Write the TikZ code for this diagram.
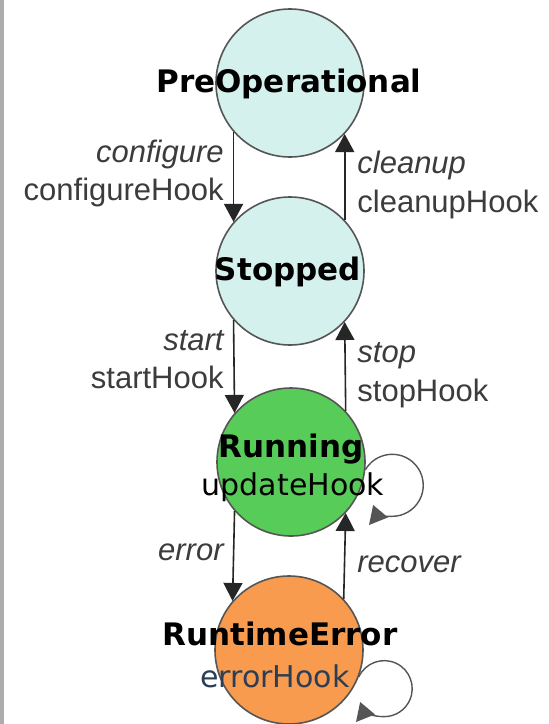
\documentclass[tikz,border=0pt]{standalone}
\usepackage{fontspec}
\setmainfont{Liberation Sans}
\newfontfamily\statefont{DejaVu Sans}
\usetikzlibrary{arrows.meta}

\definecolor{paleteal}{HTML}{D4F1ED}
\definecolor{rungreen}{HTML}{58CC58}
\definecolor{errorange}{HTML}{F89B4E}
\definecolor{edgegray}{HTML}{555555}
\definecolor{lblgray}{HTML}{3C3C3C}
\definecolor{hookblue}{HTML}{2C3E55}

\tikzset{
  statecircle/.style={circle, draw=edgegray, line width=0.8pt, minimum size=74pt, inner sep=0pt},
  sname/.style={font=\statefont\bfseries\fontsize{15.5}{18}\selectfont, anchor=base},
  shook/.style={font=\statefont\fontsize{15}{18}\selectfont, anchor=base},
  evlbl/.style={font=\itshape\fontsize{15.5}{18}\selectfont, text=lblgray, inner sep=0pt},
  hklbl/.style={font=\fontsize{15.5}{18}\selectfont, text=lblgray, inner sep=0pt},
  trans/.style={-{Triangle[length=9pt,width=9.5pt]}, line width=0.8pt, draw=black!85},
  selfloop/.style={trans, draw=edgegray, line width=0.7pt}
}

\begin{document}
\begin{tikzpicture}[x=0.5pt, y=-0.5pt]
        \useasboundingbox (0, 0) rectangle (548, 724);
        \fill[white] (0, 0) rectangle (548, 724);
        \draw[gray!65, line width=2pt] (2, 0) -- (2, 724);

        % states
        \node[statecircle, fill=paleteal] (pre) at (290, 83) {};
        \node[statecircle, fill=paleteal] (stop) at (290, 271) {};
        \node[statecircle, fill=rungreen] (run) at (291, 462) {};
        \node[statecircle, fill=errorange] (err) at (289, 650) {};

        \node[sname] (pretxt) at (289, 92) {PreOperational};
        \node[sname] (stoptxt) at (288, 280) {Stopped};
        \node[sname] (runtxt) at (291, 457) {Running};
        \node[shook] (runhook) at (293, 495) {updateHook};
        \node[sname] (errtxt) at (280, 645) {RuntimeError};
        \node[shook, text=hookblue] (errhook) at (275, 687) {errorHook};

        % transitions
        \draw[trans] (pre.221) -- (stop.139);
        \draw[trans] (stop.43) -- (pre.-43);
        \draw[trans] (stop.221) -- (run.139);
        \draw[trans] (run.43) -- (stop.-43);
        \draw[trans] (run.221) -- (err.139);
        \draw[trans] (err.43) -- (run.-43);

        % self loops
        \coordinate (runtip) at (369, 525);
        \coordinate (errtip) at (356, 722);
        \draw[selfloop] (run.-6) arc[start angle=150, end angle=-90, radius=15.5pt]
            to[out=180, in=50] (runtip);
        \draw[selfloop] (err.-21) arc[start angle=155, end angle=-90, radius=14pt]
            to[out=180, in=50] (errtip);

        % labels
        \foreach \nm/\ev/\hk/\y in {cfg/configure/configureHook/162, start/start/startHook/350}
        {
            \node[evlbl, anchor=base east] (\nm) at (224, \y) {\ev};
            \node[hklbl, anchor=base east] (\nm hook) at (224, \y + 38) {\hk};
        }
        \foreach \nm/\ev/\hk/\y in {clean/cleanup/cleanupHook/173, stp/stop/stopHook/362}
        {
            \node[evlbl, anchor=base west] (\nm) at (357, \y) {\ev};
            \node[hklbl, anchor=base west] (\nm hook) at (357, \y + 39) {\hk};
        }
        \node[evlbl, anchor=base east] (errev) at (224, 560) {error};
        \node[evlbl, anchor=base west] (recev) at (357, 572) {recover};
\end{tikzpicture}
\end{document}
